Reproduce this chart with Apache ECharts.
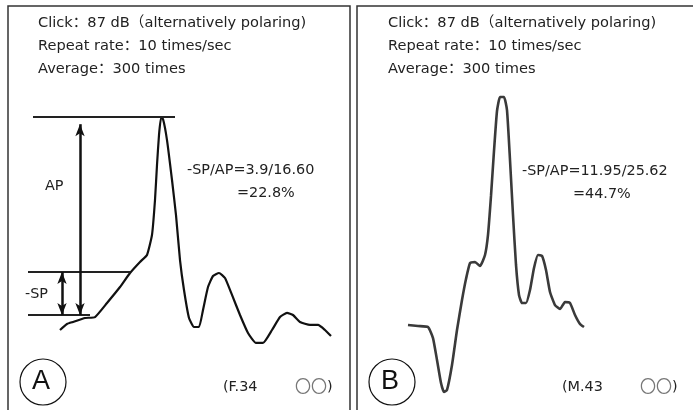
<!DOCTYPE html>
<html>
<head>
<meta charset="utf-8">
<script src="https://cdn.jsdelivr.net/npm/echarts@6/dist/echarts.min.js"></script>
<style>
  html, body { margin: 0; padding: 0; background: #fff; }
  #chart { width: 693px; height: 410px; }
</style>
</head>
<body>
<div id="chart"></div>
<script>
// waveform A (F.34), [time, amplitude]
const waveA = [
  [2.0, -1.25], [2.35, -0.75], [2.65, -0.58], [3.25, -0.25], [3.75, -0.17],
  [4.35, 1.0], [5.0, 2.33], [5.5, 3.5], [6.0, 4.42], [6.35, 5.0],
  [6.6, 6.67], [6.75, 9.58], [6.85, 12.5], [6.95, 15.0], [7.05, 16.4],
  [7.15, 16.33], [7.35, 14.58], [7.6, 11.25], [7.8, 8.33], [8.0, 4.58],
  [8.2, 2.08], [8.45, -0.25], [8.7, -1.0], [8.95, -1.0], [9.15, 0.42],
  [9.4, 2.33], [9.65, 3.25], [9.95, 3.5], [10.25, 3.08], [10.6, 1.67],
  [11.0, 0], [11.4, -1.5], [11.8, -2.33], [12.15, -2.33], [12.6, -1.25],
  [13.0, -0.17], [13.35, 0.17], [13.65, 0], [14.0, -0.58], [14.5, -0.83],
  [14.9, -0.83], [15.25, -1.25], [15.55, -1.75]
];

// waveform B (M.43)
const waveB = [
  [1.9, 0.17], [2.4, 0.08], [2.9, 0], [3.15, -0.92], [3.35, -2.75],
  [3.55, -4.67], [3.7, -5.42], [3.85, -5.25], [4.1, -3.17], [4.35, -0.25],
  [4.6, 2.25], [4.8, 4.0], [5.0, 5.33], [5.25, 5.42], [5.5, 5.08],
  [5.75, 6.0], [5.9, 7.67], [6.05, 10.92], [6.2, 14.67], [6.35, 18.0],
  [6.5, 19.17], [6.7, 19.17], [6.85, 18.08], [7.0, 13.92], [7.15, 9.33],
  [7.3, 5.17], [7.45, 2.67], [7.6, 2.0], [7.8, 2.0], [8.0, 3.08],
  [8.2, 4.92], [8.4, 6.0], [8.6, 5.92], [8.8, 4.75], [9.0, 2.92],
  [9.25, 1.83], [9.5, 1.5], [9.75, 2.08], [10.0, 2.0], [10.25, 1.0],
  [10.5, 0.25], [10.7, 0]
];

// reference lines and arrows for AP / -SP in A: [x1, y1, x2, y2]
const guideLinesA = [[0.65, 16.5, 7.75, 16.5], [0.4, 3.58, 5.5, 3.58], [0.4, 0, 3.5, 0]];
const arrowsA = [[3.0, 0, 3.0, 15.9], [2.1, 0, 2.1, 3.58]];

const headerLines = ["Click：87 dB（alternatively polaring)", "Repeat rate：10 times/sec", "Average：300 times"];
const ratioA = ["-SP/AP=3.9/16.60", "=22.8%"];
const ratioB = ["-SP/AP=11.95/25.62", "=44.7%"];

var font = "'DejaVu Sans', 'Noto Sans CJK SC', sans-serif";
var myChart = echarts.init(document.getElementById("chart"));

function toLine(arr) {
  return arr.map(function (l) {
    return [{ coord: [l[0], l[1]] }, { coord: [l[2], l[3]] }];
  });
}

function txt(x, y, s, size, fill, fam) {
  return {
    type: "text",
    left: x,
    top: y,
    style: { text: s, fontSize: size, fontFamily: fam || font, fill: fill || "#222" },
  };
}

var graphics = [
  { type: "rect", shape: { x: 8, y: 6, width: 342, height: 420 }, style: { fill: "none", stroke: "#333", lineWidth: 1.5 } },
  { type: "rect", shape: { x: 357, y: 6, width: 350, height: 420 }, style: { fill: "none", stroke: "#333", lineWidth: 1.5 } },
  { type: "circle", shape: { cx: 43, cy: 382, r: 23 }, style: { fill: "none", stroke: "#111", lineWidth: 1.2 } },
  { type: "circle", shape: { cx: 392, cy: 382, r: 23 }, style: { fill: "none", stroke: "#111", lineWidth: 1.2 } },
];
headerLines.forEach(function (s, i) {
  graphics.push(txt(38, 16 + i * 23, s, 14.6));
  graphics.push(txt(388, 16 + i * 23, s, 14.6));
});
graphics.push(txt(187, 163, ratioA[0], 14.4));
graphics.push(txt(237, 186, ratioA[1], 14.4));
graphics.push(txt(522, 164, ratioB[0], 14.4));
graphics.push(txt(573, 187, ratioB[1], 14.4));
graphics.push(txt(45, 179, "AP", 14.4));
graphics.push(txt(25, 287, "-SP", 14.4));
graphics.push(txt(32, 368, "A", 27, "#111", "'Liberation Sans', sans-serif"));
graphics.push(txt(381, 368, "B", 27, "#111", "'Liberation Sans', sans-serif"));
graphics.push(txt(223, 380, "(F.34", 14.4));
graphics.push(txt(295, 378, "〇〇", 16, "#777", "'Noto Sans CJK SC', sans-serif"));
graphics.push(txt(327, 380, ")", 14.4));
graphics.push(txt(562, 380, "(M.43", 14.4));
graphics.push(txt(640, 378, "〇〇", 16, "#777", "'Noto Sans CJK SC', sans-serif"));
graphics.push(txt(672, 380, ")", 14.4));

let option = {
  animation: false,
  grid: [
    { left: 20, top: 87, width: 320, height: 312 },
    { left: 370, top: 87, width: 320, height: 312 },
  ],
  xAxis: [
    { type: "value", gridIndex: 0, min: 0, max: 16, show: false },
    { type: "value", gridIndex: 1, min: 0, max: 16, show: false },
  ],
  yAxis: [
    { type: "value", gridIndex: 0, min: -7, max: 19, show: false },
    { type: "value", gridIndex: 1, min: -6, max: 20, show: false },
  ],
  series: [
    {
      type: "line",
      xAxisIndex: 0,
      yAxisIndex: 0,
      data: waveA,
      smooth: 0.15,
      symbol: "none",
      lineStyle: { color: "#111", width: 2.2 },
      markLine: {
        silent: true,
        symbol: ["none", "none"],
        label: { show: false },
        lineStyle: { color: "#222", width: 2, type: "solid" },
        data: toLine(guideLinesA),
      },
    },
    {
      type: "line",
      xAxisIndex: 0,
      yAxisIndex: 0,
      data: [],
      markLine: {
        silent: true,
        symbol: ["arrow", "arrow"],
        symbolSize: [7, 12],
        label: { show: false },
        lineStyle: { color: "#111", width: 2.5, type: "solid" },
        data: toLine(arrowsA),
      },
    },
    {
      type: "line",
      xAxisIndex: 1,
      yAxisIndex: 1,
      data: waveB,
      smooth: 0.15,
      symbol: "none",
      lineStyle: { color: "#3a3a3a", width: 2.6 },
    },
  ],
  graphic: graphics,
};
myChart.setOption(option);
</script>
</body>
</html>
